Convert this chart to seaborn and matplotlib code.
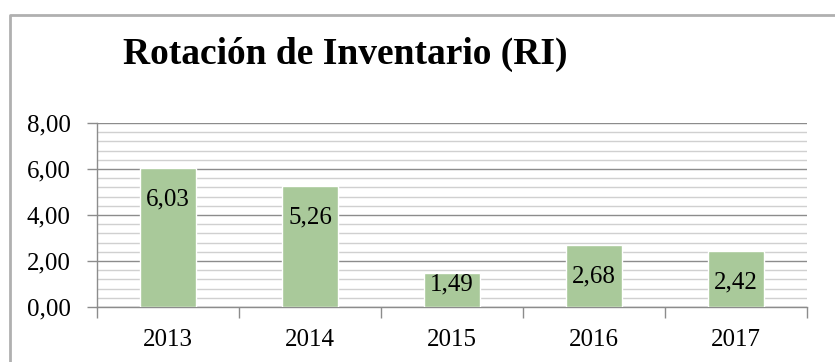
import matplotlib
matplotlib.use("Agg")
import matplotlib.pyplot as plt
from matplotlib.ticker import MultipleLocator, FixedLocator
from matplotlib.lines import Line2D
import seaborn as sns
import pandas as pd

years = ["2013", "2014", "2015", "2016", "2017"]
ri_values = [6.03, 5.26, 1.49, 2.68, 2.42]
y_ticks = [0, 2, 4, 6, 8]
title = "Rotación de Inventario (RI)"

sns.set_theme(style="white")
plt.rcParams["font.family"] = ["Liberation Serif", "DejaVu Serif"]

df = pd.DataFrame({"year": years, "ri": ri_values})

fig = plt.figure(figsize=(8.35, 3.62), dpi=100)
ax = fig.add_axes([97 / 835, 1 - 307 / 362, 710 / 835, 184 / 362])

sns.barplot(data=df, x="year", y="ri", color="#a9c99a", saturation=1,
            width=0.39, ax=ax, zorder=3)

ax.set_ylim(0, 8)
ax.set_xlim(-0.5, len(years) - 0.5)
ax.yaxis.set_major_locator(FixedLocator(y_ticks))
ax.set_yticklabels([f"{v:.2f}".replace(".", ",") for v in y_ticks])
ax.yaxis.set_minor_locator(MultipleLocator(0.4))
ax.grid(axis="y", which="major", color="#8c8c8c", linewidth=1.0, zorder=1)
ax.grid(axis="y", which="minor", color="#d0d0d0", linewidth=1.0, zorder=1)
ax.set_axisbelow(True)

# category boundaries as x ticks, labels centered under bars
ax.xaxis.set_major_locator(FixedLocator(range(len(years))))
ax.set_xticklabels(years)
ax.xaxis.set_minor_locator(FixedLocator([i - 0.5 for i in range(len(years) + 1)]))
ax.tick_params(axis="x", which="major", length=0, pad=16, labelsize=18, labelcolor="black")
ax.tick_params(axis="x", which="minor", bottom=True, length=8, width=1, color="#8c8c8c")
ax.tick_params(axis="y", which="major", left=True, length=7, width=1, color="#8c8c8c",
               labelsize=18, pad=12, labelcolor="black")
ax.tick_params(axis="y", which="minor", left=False)

for side in ["top", "right"]:
    ax.spines[side].set_visible(False)
for side in ["left", "bottom"]:
    ax.spines[side].set_color("#8c8c8c")
    ax.spines[side].set_linewidth(1.0)
ax.set_xlabel("")
ax.set_ylabel("")

# value labels inside the top of each bar (kept clear of the baseline)
for i, v in enumerate(ri_values):
    y_lab = max(v - 1.35, 1.0)
    ax.text(i, y_lab, f"{v:.2f}".replace(".", ","), ha="center", va="center",
            fontsize=18, color="black", zorder=4)

fig.text(345 / 835, 1 - 54 / 362, title, ha="center", va="center",
         fontsize=27, fontweight="bold", color="black")

# chart frame (top and left edges)
fig.add_artist(Line2D([10 / 835, 10 / 835, 1.0], [0.0, 1 - 15 / 362, 1 - 15 / 362],
                      transform=fig.transFigure, color="#b0b0b0", linewidth=2))

fig.savefig("out.png", dpi=100)
